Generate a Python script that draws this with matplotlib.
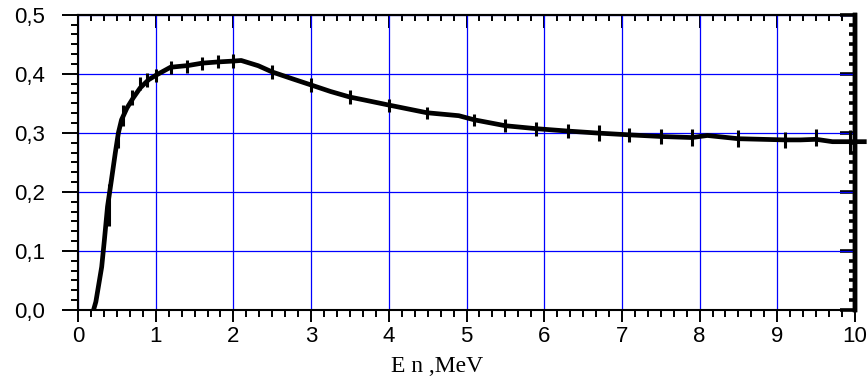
import numpy as np
import matplotlib
matplotlib.use("Agg")
import matplotlib.pyplot as plt
from matplotlib.ticker import MultipleLocator, AutoMinorLocator, FuncFormatter

# smooth curve
E_curve = [0.20, 0.23, 0.305, 0.34, 0.38, 0.43, 0.48, 0.52, 0.56, 0.63, 0.71,
           0.80, 0.91, 1.01, 1.19, 1.42, 1.60, 1.80, 2.00, 2.10, 2.32, 2.50,
           2.77, 3.00, 3.25, 3.50, 3.67, 3.89, 4.00, 4.49, 4.90, 5.10, 5.50,
           5.90, 6.30, 6.70, 7.09, 7.50, 7.90, 8.10, 8.50, 9.10, 9.30, 9.50,
           9.71, 9.93, 10.15]
v_curve = [0.000, 0.014, 0.073, 0.119, 0.175, 0.220, 0.266, 0.300, 0.322, 0.342, 0.359,
           0.376, 0.390, 0.398, 0.411, 0.414, 0.418, 0.420, 0.4215, 0.4225, 0.4136, 0.403,
           0.391, 0.381, 0.370, 0.3605, 0.356, 0.350, 0.347, 0.334, 0.329, 0.322, 0.312,
           0.307, 0.303, 0.2995, 0.2966, 0.2938, 0.292, 0.2955, 0.290, 0.288, 0.288, 0.289,
           0.285, 0.285, 0.285]

# measured points with error bars
E_pts = [0.40, 0.51, 0.58, 0.70, 0.80, 0.89, 1.00, 1.20, 1.40, 1.60, 1.80, 2.00,
         2.50, 3.00, 3.50, 4.00, 4.49, 5.10, 5.50, 5.90, 6.30, 6.70, 7.09, 7.50,
         7.90, 8.50, 9.10, 9.50, 9.93]
v_pts = [0.178, 0.290, 0.329, 0.360, 0.383, 0.390, 0.397, 0.410, 0.413, 0.418, 0.420, 0.4215,
         0.403, 0.381, 0.3605, 0.347, 0.334, 0.322, 0.312, 0.307, 0.303, 0.2995, 0.2966, 0.2938,
         0.292, 0.290, 0.288, 0.292, 0.285]
err = [0.035, 0.015, 0.018, 0.013, 0.011, 0.012, 0.011, 0.011, 0.011, 0.011, 0.011, 0.012,
       0.012, 0.012, 0.012, 0.011, 0.010, 0.010, 0.011, 0.012, 0.012, 0.013, 0.012, 0.013,
       0.014, 0.014, 0.014, 0.014, 0.020]

fig = plt.figure(figsize=(8.68, 3.85), dpi=100)
ax = fig.add_axes([78/868, 75/385, 777/868, 295.3/385])

ax.set_xlim(0, 10)
ax.set_ylim(0, 0.5)

ax.plot(E_curve, v_curve, color='black', lw=3.4, clip_on=False, zorder=3,
        solid_joinstyle='round', solid_capstyle='butt')
ax.errorbar(E_pts, v_pts, yerr=err, fmt='none', ecolor='black', elinewidth=2.2,
            capsize=0, zorder=4)

ax.xaxis.set_major_locator(MultipleLocator(1))
ax.yaxis.set_major_locator(MultipleLocator(0.1))
ax.xaxis.set_minor_locator(AutoMinorLocator(6))
ax.yaxis.set_minor_locator(AutoMinorLocator(6))
ax.grid(True, which='major', color='#0000ff', lw=0.9)
ax.set_axisbelow(True)

ax.yaxis.set_major_formatter(FuncFormatter(lambda v, p: f"{v:.1f}".replace('.', ',')))

font = 'Liberation Sans'
ax.tick_params(which='both', direction='out', color='black', width=1.4,
               labelsize=16, labelfontfamily=font)
ax.tick_params(axis='x', which='major', length=8.5, pad=3)
ax.tick_params(axis='x', which='minor', length=5)
ax.tick_params(axis='y', which='major', length=11.5, pad=12)
ax.tick_params(axis='y', which='minor', length=5)

for s in ['left', 'bottom']:
    ax.spines[s].set_linewidth(1.5)
ax.spines['top'].set_linewidth(1.5)
ax.spines['right'].set_linewidth(3.2)

# top axis: inward ticks
top = ax.secondary_xaxis('top')
top.xaxis.set_major_locator(MultipleLocator(1))
top.xaxis.set_minor_locator(AutoMinorLocator(6))
top.tick_params(which='both', direction='in', width=1.4, labeltop=False)
top.tick_params(which='major', length=9)
top.tick_params(which='minor', length=4)
top.spines['top'].set_linewidth(1.5)

# right axis: thick inward ticks
right = ax.secondary_yaxis('right')
right.yaxis.set_major_locator(MultipleLocator(0.1))
right.yaxis.set_minor_locator(AutoMinorLocator(6))
right.tick_params(which='both', direction='in', width=2.6, labelright=False)
right.tick_params(which='major', length=11)
right.tick_params(which='minor', length=4.5)
right.spines['right'].set_linewidth(3.2)

fig.text(437/868, 1 - 367/385, 'E n ,MeV', family='Liberation Serif', fontsize=17,
         ha='center', va='center')

fig.savefig('out.png', dpi=100)
